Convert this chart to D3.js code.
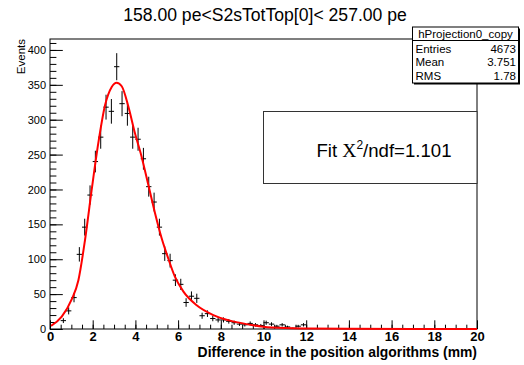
<!DOCTYPE html>
<html>
<head>
<meta charset="utf-8">
<script src="https://cdn.jsdelivr.net/npm/d3@7"></script>
<style>
  body { margin: 0; background: #fff; }
  svg { display: block; font-family: "Liberation Sans", Arial, sans-serif; }
</style>
</head>
<body>
<div class="chart"></div>
<script>
// ============================================================================
// Data
// ============================================================================

// histogram bin centres (bin width 0.25 mm) and contents
var binCenters = [
  0.125, 0.375, 0.625, 0.875, 1.125, 1.375, 1.625, 1.875,
  2.125, 2.375, 2.625, 2.875, 3.125, 3.375, 3.625, 3.875,
  4.125, 4.375, 4.625, 4.875, 5.125, 5.375, 5.625, 5.875,
  6.125, 6.375, 6.625, 6.875, 7.125, 7.375, 7.625, 7.875,
  8.125, 8.375, 8.625, 8.875, 9.125, 9.375, 9.625, 9.875,
  10.125, 10.375, 10.625, 10.875, 11.125, 11.375, 11.625, 11.875
];
var binCounts = [
  0, 0, 12, 26, 45, 107, 146, 192,
  240, 275, 318, 312, 376, 323, 309, 275,
  272, 244, 204, 182, 146, 108, 98, 70,
  64, 38, 47, 44, 19, 22, 15, 13,
  13, 11, 9, 7, 6, 8, 6, 5,
  9, 7, 4, 6, 3, 1, 4, 6
];
var binWidth = 0.25;

// fitted function, sampled from the red curve
var fitX = [0.05, 0.55, 1.01, 1.33, 1.64, 1.95, 2.26, 2.58, 2.89, 3.12, 3.36, 3.67,
  3.98, 4.29, 4.61, 4.92, 5.23, 5.54, 5.85, 6.25, 6.87, 7.65, 8.43, 9.21, 9.99,
  11, 12, 14, 17, 20];
var fitY = [4.5, 17.7, 42, 70, 127.6, 199, 266, 321, 347, 353, 348, 319,
  280.5, 247, 206, 166, 130, 101, 75, 53.5, 34, 20, 12, 7, 3.3,
  1.3, 0.7, 0.3, 0.1, 0.05];

var xTicks = [0, 2, 4, 6, 8, 10, 12, 14, 16, 18, 20];
var yTicks = [0, 50, 100, 150, 200, 250, 300, 350, 400];

var titleText = '158.00 pe<S2sTotTop[0]< 257.00 pe';
var xTitle = 'Difference in the position algorithms (mm)';
var yTitle = 'Events';

var statsName = 'hProjection0_copy';
var statsLabels = ['Entries', 'Mean', 'RMS'];
var statsValues = ['4673', '3.751', '1.78'];

// ============================================================================
// Create SVG
// ============================================================================

var svgWidth = 524;
var svgHeight = 365;

var frame = { left: 50, right: 477, top: 39, bottom: 329 };

var svg = d3.select('.chart')
  .append('svg')
  .attr('width', svgWidth)
  .attr('height', svgHeight);

var xScale = d3.scaleLinear()
  .domain([0, 20])
  .range([frame.left, frame.right]);

var yScale = d3.scaleLinear()
  .domain([0, 415.7])
  .range([frame.bottom, frame.top]);

// ============================================================================
// Axes (ROOT style: ticks inside the frame)
// ============================================================================

var xMinor = d3.range(0, 20.001, 0.5);
var yMinor = d3.range(0, 411, 10);

svg.append('g')
  .attr('transform', `translate(0, ${frame.bottom})`)
  .call(d3.axisBottom(xScale).tickValues(xMinor).tickSize(-4.3).tickFormat(''))
  .call(g => g.select('.domain').remove());

svg.append('g')
  .attr('transform', `translate(0, ${frame.bottom})`)
  .call(d3.axisBottom(xScale).tickValues(xTicks).tickSize(-8.7).tickPadding(2.3).tickFormat(d3.format('d')))
  .call(g => g.select('.domain').remove())
  .selectAll('text')
    .attr('font-size', '13px')
    .attr('font-weight', 'bold')
    .attr('font-family', '"Liberation Sans", Arial, sans-serif')
    .attr('fill', '#000');

svg.append('g')
  .attr('transform', `translate(${frame.left}, 0)`)
  .call(d3.axisLeft(yScale).tickValues(yMinor).tickSize(-6.4).tickFormat(''))
  .call(g => g.select('.domain').remove());

svg.append('g')
  .attr('transform', `translate(${frame.left}, 0)`)
  .call(d3.axisLeft(yScale).tickValues(yTicks).tickSize(-12.8).tickPadding(4).tickFormat(d3.format('d')))
  .call(g => g.select('.domain').remove())
  .selectAll('text')
    .attr('font-size', '11px')
    .attr('font-family', '"Liberation Sans", Arial, sans-serif')
    .attr('fill', '#000');

svg.selectAll('.tick line').attr('stroke', '#000');

// frame
svg.append('rect')
  .attr('x', frame.left)
  .attr('y', frame.top)
  .attr('width', frame.right - frame.left)
  .attr('height', frame.bottom - frame.top)
  .attr('fill', 'none')
  .attr('stroke', '#000')
  .attr('stroke-width', 1);

// ============================================================================
// Histogram points with error bars
// ============================================================================

var points = binCenters
  .map((c, i) => ({ x: c, n: binCounts[i] }))
  .filter(d => d.n > 0);

var marks = svg.append('g')
  .attr('stroke', '#000')
  .attr('stroke-width', 1);

marks.selectAll('line.h')
  .data(points)
  .enter()
    .append('line')
    .classed('h', true)
    .attr('x1', d => xScale(d.x - binWidth / 2))
    .attr('x2', d => xScale(d.x + binWidth / 2))
    .attr('y1', d => yScale(d.n))
    .attr('y2', d => yScale(d.n));

marks.selectAll('line.v')
  .data(points)
  .enter()
    .append('line')
    .classed('v', true)
    .attr('x1', d => xScale(d.x))
    .attr('x2', d => xScale(d.x))
    .attr('y1', d => yScale(d.n + Math.sqrt(d.n)))
    .attr('y2', d => yScale(Math.max(0, d.n - Math.sqrt(d.n))));

// ============================================================================
// Fit curve
// ============================================================================

var fitLine = d3.line()
  .x((d, i) => xScale(fitX[i]))
  .y(d => yScale(d))
  .curve(d3.curveMonotoneX);

svg.append('path')
  .datum(fitY)
  .attr('d', fitLine)
  .attr('fill', 'none')
  .attr('stroke', '#ff0000')
  .attr('stroke-width', 2);

// ============================================================================
// Texts and boxes
// ============================================================================

svg.append('text')
  .attr('x', 265)
  .attr('y', 21)
  .attr('text-anchor', 'middle')
  .attr('font-size', '17.6px')
  .text(titleText);

svg.append('text')
  .attr('x', frame.right)
  .attr('y', 357)
  .attr('text-anchor', 'end')
  .attr('font-size', '13.9px')
  .attr('font-weight', 'bold')
  .text(xTitle);

svg.append('text')
  .attr('transform', `translate(24.5, ${frame.top}) rotate(-90)`)
  .attr('text-anchor', 'end')
  .attr('font-size', '11.5px')
  .text(yTitle);

// fit box
var fitBox = svg.append('g');
fitBox.append('rect')
  .attr('x', 263.5)
  .attr('y', 111.5)
  .attr('width', frame.right - 263.5)
  .attr('height', 72)
  .attr('fill', '#fff')
  .attr('stroke', '#333')
  .attr('stroke-width', 1);

var fitText = fitBox.append('text')
  .attr('x', 316.5)
  .attr('y', 156.5)
  .attr('font-size', '18.6px');
fitText.append('tspan').text('Fit ');
fitText.append('tspan')
  .attr('font-family', '"Liberation Serif", "Times New Roman", serif')
  .attr('font-size', '19.5px')
  .text('X');
fitText.append('tspan')
  .attr('dy', -7.5)
  .attr('font-size', '12px')
  .text('2');
fitText.append('tspan')
  .attr('dy', 7.5)
  .text('/ndf=1.101');

// stats box
var stats = svg.append('g');
var sb = { x: 412.5, y: 27, w: 106, h: 56, head: 13.5 };

stats.append('rect')
  .attr('x', sb.x + 1.5)
  .attr('y', sb.y + 1.5)
  .attr('width', sb.w)
  .attr('height', sb.h)
  .attr('fill', '#000');

stats.append('rect')
  .attr('x', sb.x)
  .attr('y', sb.y)
  .attr('width', sb.w)
  .attr('height', sb.h)
  .attr('fill', '#fff')
  .attr('stroke', '#000')
  .attr('stroke-width', 1);

stats.append('line')
  .attr('x1', sb.x)
  .attr('x2', sb.x + sb.w)
  .attr('y1', sb.y + sb.head)
  .attr('y2', sb.y + sb.head)
  .attr('stroke', '#000');

stats.append('text')
  .attr('x', sb.x + sb.w / 2)
  .attr('y', sb.y + 10.5)
  .attr('text-anchor', 'middle')
  .attr('font-size', '11.5px')
  .text(statsName);

statsLabels.forEach(function(label, i) {
  var yy = 53 + i * 13.4;
  stats.append('text')
    .attr('x', sb.x + 3)
    .attr('y', yy)
    .attr('font-size', '11.5px')
    .text(label);
  stats.append('text')
    .attr('x', sb.x + sb.w - 2.5)
    .attr('y', yy)
    .attr('text-anchor', 'end')
    .attr('font-size', '11.5px')
    .text(statsValues[i]);
});
</script>
</body>
</html>
